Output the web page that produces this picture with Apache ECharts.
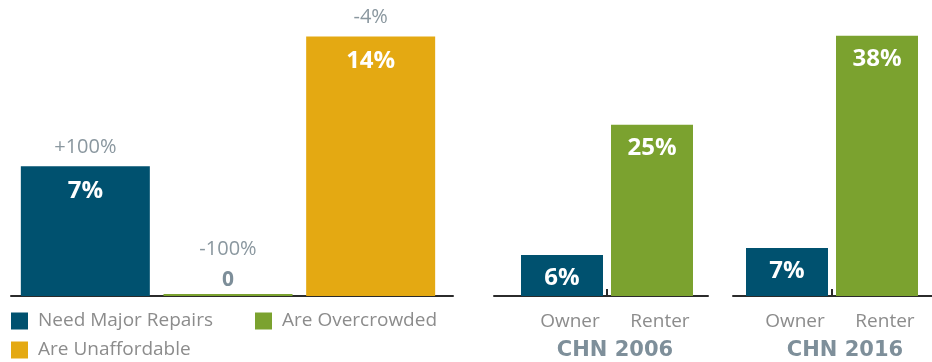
<!DOCTYPE html>
<html>
<head>
<meta charset="utf-8">
<script src="https://cdn.jsdelivr.net/npm/echarts@6/dist/echarts.min.js"></script>
<style>
  html, body { margin: 0; padding: 0; background: #ffffff; }
  #chart { width: 932px; height: 362px; }
</style>
</head>
<body>
<div id="chart"></div>
<script>
// Core housing need indicators and tenure split
const problemNames = ['Need Major Repairs', 'Are Overcrowded', 'Are Unaffordable'];
const problemValues = [7, 0, 14];
const problemChanges = ['+100%', '-100%', '-4%'];

const tenureCategories = ['Owner', 'Renter'];
const chn2006Values = [6, 25];
const chn2016Values = [7, 38];
const panelTitles = ['CHN 2006', 'CHN 2016'];

const BLUE = '#00516F';
const GREEN = '#7BA22F';
const GOLD = '#E4A912';
const problemColors = [BLUE, GREEN, GOLD];
const FONT = '"Open Sans", sans-serif';
const TITLE_FONT = '"DejaVu Sans", sans-serif';
const AXIS_DARK = '#2b2b2b';
const MUTED = '#8a979f';

const chart = echarts.init(document.getElementById('chart'));

// Left panel: one series per indicator so the legend lists each one
const problemSeries = problemNames.map((name, i) => ({
  name: name,
  type: 'bar',
  xAxisIndex: 0,
  yAxisIndex: 0,
  barWidth: 129,
  barGap: '-100%',
  barMinHeight: 2,
  z: 3,
  itemStyle: { color: problemColors[i] },
  data: problemValues.map((v, j) => {
    if (j !== i) return '-';
    if (v === 0) {
      return {
        value: v,
        label: {
          show: true, position: 'top', distance: 3,
          color: '#7d8e99', fontSize: 21, fontWeight: 'bold',
          formatter: String(v)
        }
      };
    }
    return v;
  }),
  label: {
    show: true, position: 'insideTop', distance: 13,
    color: '#ffffff', fontSize: 24, fontWeight: 'bold', fontFamily: FONT,
    formatter: p => p.value + '%'
  }
}));

// Change labels sit on an invisible overlay of the same bars
const changeSeries = {
  name: 'change',
  type: 'bar',
  xAxisIndex: 0,
  yAxisIndex: 0,
  barWidth: 129,
  barGap: '-100%',
  z: 1,
  silent: true,
  itemStyle: { color: 'rgba(0,0,0,0)' },
  data: problemValues.map(v => v === 0
    ? { value: v, label: { distance: 37 } }
    : v),
  label: {
    show: true, position: 'top', distance: 9,
    color: MUTED, fontSize: 20, fontFamily: FONT,
    formatter: p => problemChanges[p.dataIndex]
  }
};

function tenureSeries(values, axisIdx) {
  return {
    type: 'bar',
    xAxisIndex: axisIdx,
    yAxisIndex: axisIdx,
    barWidth: 82,
    z: 3,
    data: values.map((v, i) => ({ value: v, itemStyle: { color: i === 0 ? BLUE : GREEN } })),
    label: {
      show: true, position: 'insideTop', distance: 11,
      color: '#ffffff', fontSize: 24, fontWeight: 'bold', fontFamily: FONT,
      formatter: p => p.value + '%'
    }
  };
}

const hiddenAxisParts = {
  axisLine: { show: false }, axisTick: { show: false },
  axisLabel: { show: false }, splitLine: { show: false }
};

function tenureXAxis(gridIndex) {
  return {
    gridIndex: gridIndex, type: 'category', data: tenureCategories,
    axisLine: { show: false }, axisTick: { show: false },
    axisLabel: {
      color: '#8c8c8c', fontSize: 19, fontFamily: FONT, margin: 16,
      padding: [0, 0, 0, 16]
    }
  };
}

// A value axis used only to place the divider tick between the two bars
function dividerAxis(gridIndex) {
  return {
    gridIndex: gridIndex, type: 'value', min: 0, max: 2, position: 'bottom',
    axisLine: { show: false }, axisLabel: { show: false }, splitLine: { show: false },
    axisTick: {
      show: true, inside: true, length: 7, customValues: [1],
      lineStyle: { color: AXIS_DARK, width: 2 }
    }
  };
}

// Baselines that run a little past the bars on either side
function baseAxis(gridIndex) {
  return {
    gridIndex: gridIndex, type: 'category', data: [''],
    axisLine: { show: true, lineStyle: { color: AXIS_DARK, width: 2 } },
    axisTick: { show: false }, axisLabel: { show: false }
  };
}

const option = {
  animation: false,
  backgroundColor: '#ffffff',
  textStyle: { fontFamily: FONT },
  title: [
    { text: panelTitles[0], left: 615, top: 340, textAlign: 'center', padding: 0,
      textStyle: { fontSize: 21, fontWeight: 'bold', color: '#7e8f9a', fontFamily: TITLE_FONT } },
    { text: panelTitles[1], left: 845, top: 340, textAlign: 'center', padding: 0,
      textStyle: { fontSize: 21, fontWeight: 'bold', color: '#7e8f9a', fontFamily: TITLE_FONT } }
  ],
  legend: {
    data: problemNames,
    left: 11, top: 311, width: 480, padding: 0,
    orient: 'horizontal',
    icon: 'rect', itemWidth: 17, itemHeight: 17, itemGap: 9,
    textStyle: { color: '#8c8c8c', fontSize: 19, fontFamily: FONT, width: 208, lineHeight: 20, padding: [0, 0, 0, 5] },
    selectedMode: false
  },
  grid: [
    { left: 14, width: 428, top: 18, bottom: 66 },
    { left: 517, width: 180, top: 22, bottom: 66 },
    { left: 742, width: 180, top: 22, bottom: 66 },
    { left: 11, width: 442, top: 18, bottom: 66 },
    { left: 494, width: 214, top: 18, bottom: 66 },
    { left: 733, width: 199, top: 18, bottom: 66 }
  ],
  xAxis: [
    Object.assign({ gridIndex: 0, type: 'category', data: problemNames }, hiddenAxisParts),
    tenureXAxis(1),
    tenureXAxis(2),
    baseAxis(3),
    baseAxis(4),
    baseAxis(5),
    dividerAxis(1),
    dividerAxis(2)
  ],
  yAxis: [
    Object.assign({ gridIndex: 0, type: 'value', min: 0, max: 15 }, hiddenAxisParts),
    Object.assign({ gridIndex: 1, type: 'value', min: 0, max: 40 }, hiddenAxisParts),
    Object.assign({ gridIndex: 2, type: 'value', min: 0, max: 40 }, hiddenAxisParts),
    Object.assign({ gridIndex: 3, type: 'value', min: 0, max: 1 }, hiddenAxisParts),
    Object.assign({ gridIndex: 4, type: 'value', min: 0, max: 1 }, hiddenAxisParts),
    Object.assign({ gridIndex: 5, type: 'value', min: 0, max: 1 }, hiddenAxisParts)
  ],
  series: problemSeries.concat([
    changeSeries,
    tenureSeries(chn2006Values, 1),
    tenureSeries(chn2016Values, 2)
  ])
};

chart.setOption(option);
</script>
</body>
</html>
